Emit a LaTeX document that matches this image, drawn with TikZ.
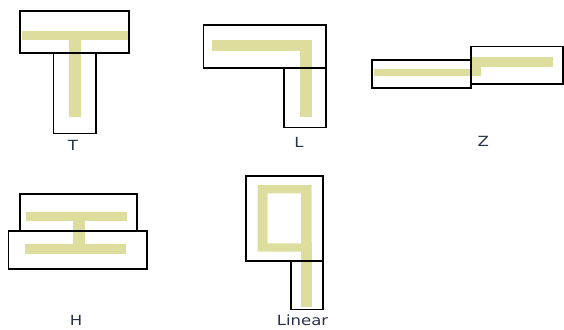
\documentclass[tikz,border=0pt]{standalone}
\usepackage{fontspec}
\newfontfamily\labfont[FakeStretch=1.18]{DejaVu Sans}
\definecolor{barcol}{RGB}{221,222,157}
\definecolor{labcol}{RGB}{40,50,70}
\begin{document}
\begin{tikzpicture}[x=1pt,y=-1pt,
  box/.style={draw=black,line width=1.6pt},
  bar/.style={fill=barcol,draw=none},
  lab/.style={text=labcol,font=\labfont\fontsize{14}{16}\selectfont,inner sep=0pt}]
\useasboundingbox (0,0) rectangle (564,329);
% ---- T ----
\fill[bar] (22,30.7) rectangle (127.7,40);
\fill[bar] (69.3,40) rectangle (81,116.7);
\draw[box] (20,11) rectangle (129,53);
\draw[box] (53.3,53) rectangle (95.7,133.3);
\node[lab] (lt) at (73,145) {T};
% ---- L ----
\fill[bar] (212,40) rectangle (312.3,51);
\fill[bar] (300,40) rectangle (312.3,116.7);
\draw[box] (203.3,25) rectangle (325.7,67.7);
\draw[box] (283.7,67.7) rectangle (325.7,127.3);
\node[lab] (ll) at (299,142) {L};
% ---- Z ----
\fill[bar] (374,69) rectangle (480.7,76);
\fill[bar] (471.7,57.3) rectangle (553.3,66.7);
\fill[bar] (471.7,57.3) rectangle (480.7,76);
\draw[box] (371.7,60) rectangle (470.7,88);
\draw[box] (470.7,46.7) rectangle (563,83.7);
\node[lab] (lz) at (483.3,141) {Z};
% ---- H ----
\fill[bar] (26,211.7) rectangle (127,220.7);
\fill[bar] (25,244) rectangle (125.7,254);
\fill[bar] (72.7,220.7) rectangle (85,244);
\draw[box] (20,194) rectangle (137,230.7);
\draw[box] (8.3,230.7) rectangle (146.7,268.7);
\node[lab] (lh) at (76,320) {H};
% ---- Linear ----
\fill[bar,even odd rule] (257.7,185) rectangle (311.7,251.7)
                         (267.7,193.3) rectangle (301,243.3);
\fill[bar] (301,243.3) rectangle (311.7,306.7);
\draw[box] (245.7,176) rectangle (322.7,260.7);
\draw[box] (290.7,260.7) rectangle (322.7,309.3);
\node[lab] (lin) at (302.5,320.5) {Linear};
\end{tikzpicture}
\end{document}
